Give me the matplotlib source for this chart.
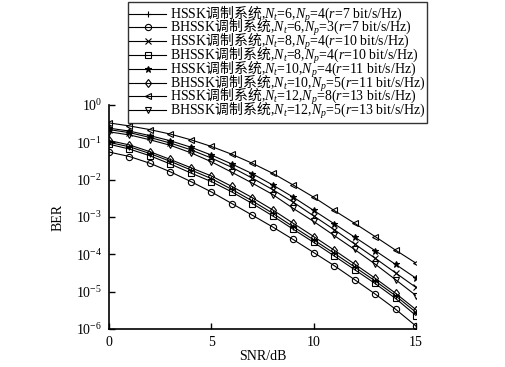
import matplotlib
matplotlib.use('Agg')
import matplotlib.pyplot as plt
from matplotlib.ticker import LogLocator, LogFormatterMathtext, NullLocator

plt.rcParams['font.family'] = ['Liberation Serif', 'Noto Sans CJK SC']
plt.rcParams['mathtext.fontset'] = 'custom'
plt.rcParams['mathtext.rm'] = 'Liberation Serif'
plt.rcParams['mathtext.it'] = 'Liberation Serif:italic'
plt.rcParams['mathtext.sf'] = 'Noto Sans CJK SC'

snr = list(range(16))

# BER, one list per curve
hssk_6_4 = [0.100, 0.0759, 0.0501, 0.0309, 0.0182, 0.0107, 5.5e-3, 2.7e-3,
            1.26e-3, 5.5e-4, 2.45e-4, 1.07e-4, 4.6e-5, 1.95e-5, 7.8e-6, 2.8e-6]
bhssk_6_3 = [0.0550, 0.0417, 0.0275, 0.0162, 8.9e-3, 4.7e-3, 2.3e-3, 1.12e-3,
             5.4e-4, 2.5e-4, 1.12e-4, 5.0e-5, 2.1e-5, 8.7e-6, 3.4e-6, 1.2e-6]
hssk_8_4 = [0.219, 0.182, 0.135, 0.0955, 0.0631, 0.0380, 0.0214, 0.0110,
            5.4e-3, 2.5e-3, 1.07e-3, 4.6e-4, 1.9e-4, 7.9e-5, 3.2e-5, 1.3e-5]
bhssk_8_4 = [0.0891, 0.0661, 0.0437, 0.0263, 0.0151, 8.9e-3, 4.7e-3, 2.3e-3,
             1.07e-3, 4.7e-4, 2.1e-4, 9.1e-5, 3.9e-5, 1.66e-5, 6.6e-6, 2.3e-6]
hssk_10_4 = [0.240, 0.200, 0.151, 0.110, 0.0741, 0.0457, 0.0263, 0.0145,
             7.2e-3, 3.4e-3, 1.5e-3, 6.6e-4, 2.9e-4, 1.26e-4, 5.4e-5, 2.3e-5]
bhssk_10_5 = [0.112, 0.0851, 0.0562, 0.0347, 0.0209, 0.0126, 6.6e-3, 3.3e-3,
              1.55e-3, 6.8e-4, 3.0e-4, 1.3e-4, 5.5e-5, 2.3e-5, 9.1e-6, 3.3e-6]
hssk_12_8 = [0.331, 0.275, 0.219, 0.166, 0.117, 0.0776, 0.0479, 0.0275,
             0.0148, 7.2e-3, 3.4e-3, 1.5e-3, 6.8e-4, 3.0e-4, 1.3e-4, 5.8e-5]
bhssk_12_5 = [0.191, 0.158, 0.117, 0.0832, 0.0525, 0.0302, 0.0158, 8.1e-3,
              4.0e-3, 1.7e-3, 7.6e-4, 3.2e-4, 1.35e-4, 5.5e-5, 2.1e-5, 7.9e-6]

curves = [hssk_6_4, bhssk_6_3, hssk_8_4, bhssk_8_4,
          hssk_10_4, bhssk_10_5, hssk_12_8, bhssk_12_5]
labels = [
    r'HSSK$\mathsf{调制系统}$,$N_t$=6,$N_p$=4($r$=7 bit/s/Hz)',
    r'BHSSK$\mathsf{调制系统}$,$N_t$=6,$N_p$=3($r$=7 bit/s/Hz)',
    r'HSSK$\mathsf{调制系统}$,$N_t$=8,$N_p$=4($r$=10 bit/s/Hz)',
    r'BHSSK$\mathsf{调制系统}$,$N_t$=8,$N_p$=4($r$=10 bit/s/Hz)',
    r'HSSK$\mathsf{调制系统}$,$N_t$=10,$N_p$=4($r$=11 bit/s/Hz)',
    r'BHSSK$\mathsf{调制系统}$,$N_t$=10,$N_p$=5($r$=11 bit/s/Hz)',
    r'HSSK$\mathsf{调制系统}$,$N_t$=12,$N_p$=8($r$=13 bit/s/Hz)',
    r'BHSSK$\mathsf{调制系统}$,$N_t$=12,$N_p$=5($r$=13 bit/s/Hz)',
]
markers = ['+', 'o', 'x', 's', '*', 'd', '<', 'v']

fig = plt.figure(figsize=(5.06, 3.67), dpi=100)
ax = fig.add_axes([0.2154, 0.1035, 0.6067, 0.6104])

for ber, lab, m in zip(curves, labels, markers):
    filled = m in ('+', 'x', '*')
    ax.semilogy(snr, ber, color='k', lw=0.8, marker=m, ms=4.5,
                mfc='k' if filled else 'none', mec='k', mew=0.8, label=lab)

ax.set_xlim(0, 15)
ax.set_ylim(1e-6, 1e0)
ax.set_xticks([0, 5, 10, 15])
ax.yaxis.set_major_locator(LogLocator(base=10, numticks=10))
ax.yaxis.set_major_formatter(LogFormatterMathtext())
ax.yaxis.set_minor_locator(NullLocator())
ax.tick_params(direction='in', length=4, width=1, labelsize=10, pad=5)
ax.spines['top'].set_visible(False)
ax.spines['right'].set_visible(False)
ax.spines['left'].set_linewidth(1.2)
ax.spines['bottom'].set_linewidth(1.2)

ax.set_xlabel('SNR/dB', fontsize=10, labelpad=1)
ax.set_ylabel('BER', fontsize=10, labelpad=8)

leg = fig.legend(loc='upper right', bbox_to_anchor=(427 / 506, 1 - 2 / 367),
                 fontsize=10, frameon=True, fancybox=False, edgecolor='k',
                 handlelength=2.6, handletextpad=0.3, labelspacing=-0.52,
                 borderpad=0.12, borderaxespad=0)
leg.get_frame().set_linewidth(1.0)

fig.savefig('out.png', dpi=100, facecolor='white')
